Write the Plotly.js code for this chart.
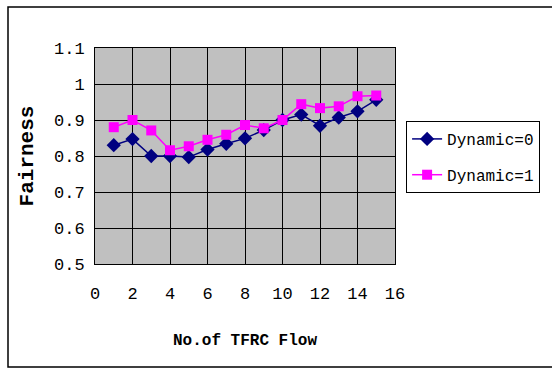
<!DOCTYPE html>
<html><head><meta charset="utf-8">
<script src="https://cdn.plot.ly/plotly-3.0.1.min.js"></script>
<style>html,body{margin:0;padding:0;background:#fff}</style>
</head><body><div id="chart" style="width:552px;height:369px"></div>
<script>
const flows = [1,2,3,4,5,6,7,8,9,10,11,12,13,14,15];
const dynamic0 = [0.83,0.847,0.80,0.80,0.797,0.818,0.834,0.849,0.872,0.90,0.915,0.884,0.907,0.924,0.956];
const dynamic1 = [0.88,0.90,0.871,0.816,0.827,0.845,0.859,0.886,0.877,0.90,0.944,0.933,0.938,0.966,0.968];
const names = ["Dynamic=0","Dynamic=1"];
const xTicks = [0,2,4,6,8,10,12,14,16];
const yTicks = [0.5,0.6,0.7,0.8,0.9,1,1.1];
const yTickText = ["0.5","0.6","0.7","0.8","0.9","1","1.1"];

const mono = "Liberation Mono, monospace";
const tickFont = {family:mono, size:17, color:"#000"};
const traces = [
 {x:flows,y:dynamic0,name:names[0],legendgroup:"a",mode:"lines+markers",type:"scatter",
  line:{color:"#000080",width:1.5},marker:{symbol:"diamond",size:11,color:"#000080"}},
 {x:flows,y:dynamic1,name:names[1],legendgroup:"b",mode:"lines+markers",type:"scatter",
  line:{color:"#ff00ff",width:1.5},marker:{symbol:"square",size:10,color:"#ff00ff"}}
];
const layout = {
 width:552,height:369,
 margin:{l:95,r:157,t:48,b:105},
 paper_bgcolor:"#fff",plot_bgcolor:"#c0c0c0",
 showlegend:true,
 legend:{x:1.037,y:0.662,xanchor:"left",yanchor:"top",bordercolor:"#000",borderwidth:1,
   font:{family:mono,size:16,color:"#000"},bgcolor:"#fff",
   traceorder:"grouped",tracegroupgap:12},
 xaxis:{range:[0,16],tickvals:xTicks,ticktext:xTicks.map(String),showgrid:true,gridcolor:"#000",gridwidth:1,
   zeroline:false,showline:true,linecolor:"#000",mirror:true,ticks:"",tickfont:tickFont,ticklabelstandoff:14,
   title:{text:"<b>No.of TFRC Flow</b>",font:{family:mono,size:16,color:"#000"},standoff:30}},
 yaxis:{range:[0.5,1.1],tickvals:yTicks,ticktext:yTickText,showgrid:true,gridcolor:"#000",gridwidth:1,
   zeroline:false,showline:true,linecolor:"#000",mirror:true,ticks:"",tickfont:tickFont,ticklabelstandoff:6,
   title:{text:"<b>Fairness</b>",font:{family:mono,size:21,color:"#000"},standoff:14}},
 shapes:[{type:"rect",xref:"paper",yref:"paper",x0:-0.29,x1:1.6,y0:-0.477,y1:1.19,line:{color:"#000",width:1.5}}]
};
Plotly.newPlot("chart",traces,layout,{displayModeBar:false,staticPlot:true});
</script></body></html>
